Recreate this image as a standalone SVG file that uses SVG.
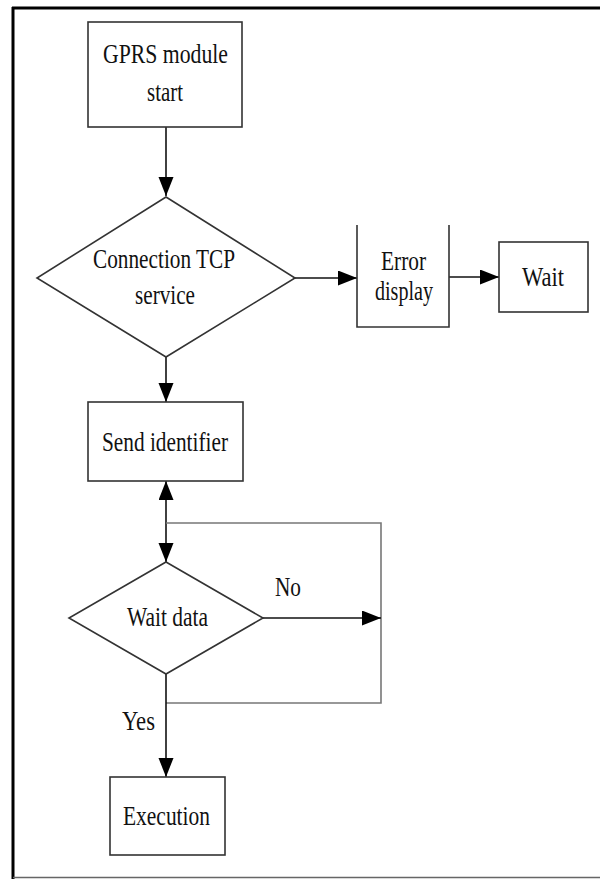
<svg xmlns="http://www.w3.org/2000/svg" width="600" height="879" viewBox="0 0 600 879">
<style>
.box{fill:#fff;stroke:#333;stroke-width:1.6}
.lbl{font-family:"Liberation Serif","Times New Roman",serif;font-size:28px;fill:#111;text-anchor:middle}
.con{fill:none;stroke:#111;stroke-width:1.6}
.loop{fill:none;stroke:#777;stroke-width:1.6}
</style>
<defs>
<marker id="ah" markerUnits="userSpaceOnUse" markerWidth="20" markerHeight="16" refX="19" refY="7.5" orient="auto">
<path d="M0,0 L19,7.5 L0,15 z" fill="#000"/>
</marker>
</defs>
<rect x="0" y="0" width="600" height="879" fill="#fff"/>
<g id="frame">
<line x1="12" y1="8" x2="600" y2="8" stroke="#000" stroke-width="3"/>
<line x1="13" y1="7" x2="13" y2="879" stroke="#000" stroke-width="3"/>
<line x1="13" y1="877.5" x2="600" y2="877.5" stroke="#666" stroke-width="1.5"/>
</g>
<g id="connectors">
<line class="con" x1="166" y1="127" x2="166" y2="196" marker-end="url(#ah)"/>
<line class="con" x1="295" y1="278" x2="357" y2="278" marker-end="url(#ah)"/>
<line class="con" x1="449" y1="277" x2="499" y2="277" marker-end="url(#ah)"/>
<line class="con" x1="166" y1="357" x2="166" y2="402" marker-end="url(#ah)"/>
<line class="con" x1="166" y1="523" x2="166" y2="481" marker-end="url(#ah)"/>
<line class="con" x1="166" y1="523" x2="166" y2="562" marker-end="url(#ah)"/>
<path class="loop" d="M166,523 H381 V703 H166"/>
<line class="con" x1="263" y1="618" x2="381" y2="618" marker-end="url(#ah)"/>
<line class="con" x1="166" y1="674" x2="166" y2="777" marker-end="url(#ah)"/>
<text class="lbl" x="288" y="596" textLength="26" lengthAdjust="spacingAndGlyphs">No</text>
<text class="lbl" x="138.5" y="730" textLength="33" lengthAdjust="spacingAndGlyphs">Yes</text>
</g>
<g id="gprs">
<rect class="box" x="88" y="22" width="154" height="105"/>
<text class="lbl" x="165.5" y="63" textLength="125" lengthAdjust="spacingAndGlyphs">GPRS module</text>
<text class="lbl" x="165" y="101" textLength="36" lengthAdjust="spacingAndGlyphs">start</text>
</g>
<g id="tcp">
<polygon class="box" points="166,197 295,278 166,357 37,278"/>
<text class="lbl" x="164" y="268" textLength="142" lengthAdjust="spacingAndGlyphs">Connection TCP</text>
<text class="lbl" x="165" y="304" textLength="60" lengthAdjust="spacingAndGlyphs">service</text>
</g>
<g id="error">
<path class="box" d="M357,225 V327 H449 V225"/>
<text class="lbl" x="403.5" y="270" textLength="45" lengthAdjust="spacingAndGlyphs">Error</text>
<text class="lbl" x="404" y="300" textLength="58" lengthAdjust="spacingAndGlyphs">display</text>
</g>
<g id="wait">
<rect class="box" x="499" y="242" width="89" height="70"/>
<text class="lbl" x="543" y="286" textLength="42" lengthAdjust="spacingAndGlyphs">Wait</text>
</g>
<g id="send">
<rect class="box" x="88" y="402" width="155" height="79"/>
<text class="lbl" x="165" y="451" textLength="126" lengthAdjust="spacingAndGlyphs">Send identifier</text>
</g>
<g id="waitdata">
<polygon class="box" points="166,562 263,618 166,674 69,618"/>
<text class="lbl" x="167.5" y="626" textLength="81" lengthAdjust="spacingAndGlyphs">Wait data</text>
</g>
<g id="exec">
<rect class="box" x="110" y="777" width="115" height="78"/>
<text class="lbl" x="166.5" y="825" textLength="87" lengthAdjust="spacingAndGlyphs">Execution</text>
</g>
</svg>
